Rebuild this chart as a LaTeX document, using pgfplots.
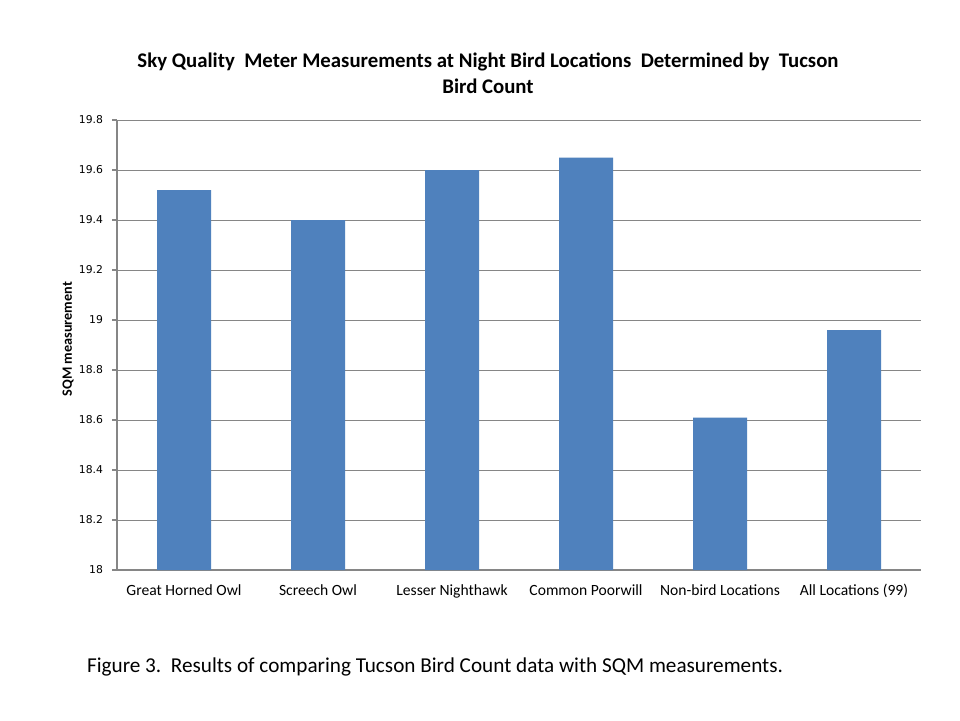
\documentclass[border=0pt]{standalone}
\usepackage{pgfplots}
\pgfplotsset{compat=1.18}
\usepackage{fontspec}
\setmainfont{Carlito}
\newfontfamily\tickfont{DejaVu Sans}
\definecolor{barblue}{HTML}{4F81BD}
\definecolor{axgray}{HTML}{868686}
\begin{document}
\begin{tikzpicture}[x=1pt,y=1pt]
\path[fill=white] (0,0) rectangle (480,360);
\begin{axis}[
  at={(58.5pt,75pt)}, anchor=south west,
  scale only axis, width=402pt, height=225pt,
  xmin=-0.5, xmax=5.5, ymin=18, ymax=19.8,
  ytick={18,18.2,...,19.8},
  axis lines*=left,
  axis line style={draw=axgray, line width=0.6pt},
  ymajorgrids, grid style={draw=axgray, line width=0.5pt},
  xtick={0,...,5},
  xticklabels={Great Horned Owl, Screech Owl, Lesser Nighthawk, Common Poorwill, Non-bird Locations, All Locations (99)},
  xticklabel style={font=\fontsize{7.8}{9}\selectfont, yshift=1pt, text height=1.6ex, text depth=0.45ex},
  x tick style={draw=none},
  extra x ticks={-0.5,0.5,1.5,2.5,3.5,4.5,5.5},
  extra x tick labels={},
  extra x tick style={tick style={draw=axgray, line width=0.6pt}, major tick length=3pt, tick align=outside, grid=none},
  y tick style={draw=axgray, line width=0.6pt},
  tick align=outside, major tick length=2.5pt,
  yticklabel style={font=\tickfont\fontsize{5.4}{6}\selectfont, xshift=-1pt},
  /pgf/number format/assume math mode=true,
  /pgf/number format/fixed,
  ybar, bar width=27pt,
  tick label style={text=black},
]
\addplot[fill=barblue, draw=none] coordinates {(0,19.52) (1,19.40) (2,19.60) (3,19.65) (4,18.61) (5,18.96)};
\end{axis}
\node[rotate=90, font=\bfseries\fontsize{7.1}{8}\selectfont] at (34,190.5) {SQM measurement};
\node[align=center, font=\bfseries\fontsize{10.4}{13}\selectfont] at (244,323.5) {Sky Quality\ \ Meter Measurements at Night Bird Locations\ \ Determined by\ \ Tucson\\Bird Count};
\node[anchor=west, font=\fontsize{10.6}{12}\selectfont] at (40,26.5) {Figure 3.\ \ Results of comparing Tucson Bird Count data with SQM measurements.};
\end{tikzpicture}
\end{document}
